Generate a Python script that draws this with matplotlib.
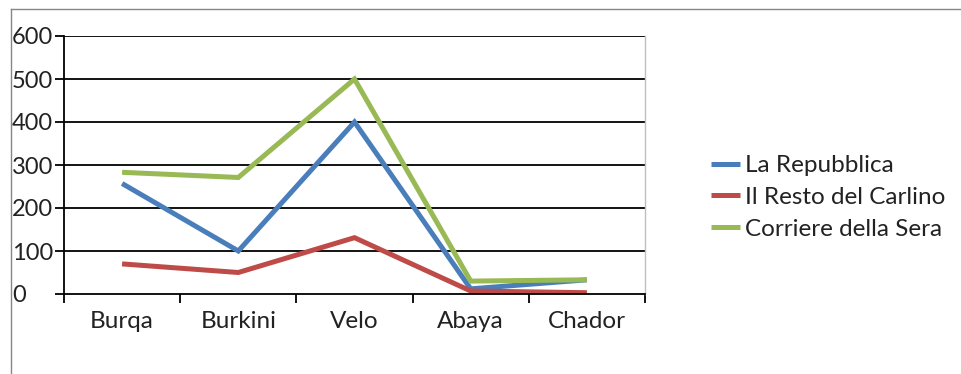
import matplotlib
matplotlib.use("Agg")
import matplotlib.pyplot as plt
from matplotlib.lines import Line2D

categories = ["Burqa", "Burkini", "Velo", "Abaya", "Chador"]
la_repubblica = [257, 100, 400, 12, 33]
resto_carlino = [70, 50, 131, 7, 3]
corriere_sera = [283, 271, 500, 30, 33]
y_ticks = [0, 100, 200, 300, 400, 500, 600]

series = [
    ("La Repubblica", la_repubblica, "#4A7EBB"),
    ("Il Resto del Carlino", resto_carlino, "#BE4B48"),
    ("Corriere della Sera", corriere_sera, "#98B954"),
]

plt.rcParams["font.family"] = ["Lato", "DejaVu Sans"]

W, H = 961, 374
fig = plt.figure(figsize=(W / 100, H / 100), dpi=100)

# outer chart frame (top and left edges visible)
fig.add_artist(Line2D([11 / W, 11 / W], [0, 1 - 9 / H], color="#868686", lw=1.0))
fig.add_artist(Line2D([11 / W, 1], [1 - 9 / H, 1 - 9 / H], color="#868686", lw=1.0))

left, right = 64 / W, 645 / W
bottom, top = 1 - 294 / H, 1 - 36 / H
ax = fig.add_axes([left, bottom, right - left, top - bottom])

x = [i + 0.5 for i in range(len(categories))]
for name, vals, col in series:
    ax.plot(x, vals, color=col, lw=3.6, label=name,
            solid_joinstyle="miter", solid_capstyle="butt")

ax.set_xlim(0, len(categories))
ax.set_ylim(0, 600)

# horizontal gridlines
for v in y_ticks[1:]:
    ax.axhline(v, color="#000000", lw=1.3, zorder=0)

ax.spines["top"].set_visible(False)
ax.spines["right"].set_color("#BFBFBF")
ax.spines["right"].set_linewidth(1.0)
ax.spines["left"].set_color("#000000")
ax.spines["left"].set_linewidth(1.3)
ax.spines["bottom"].set_color("#000000")
ax.spines["bottom"].set_linewidth(1.3)

# x axis: ticks at category boundaries, labels at centers
ax.set_xticks(range(len(categories) + 1))
ax.set_xticklabels([])
ax.tick_params(axis="x", which="major", length=6.5, width=1.3, direction="out", color="#000000")
ax.set_xticks(x, minor=True)
ax.set_xticklabels(categories, minor=True)
ax.tick_params(axis="x", which="minor", length=0, pad=12, labelsize=17.5, labelcolor="#222222")

# y axis
ax.set_yticks(y_ticks)
ax.set_yticklabels([str(v) for v in y_ticks])
ax.tick_params(axis="y", length=6.5, width=1.3, direction="out", color="#000000",
               labelsize=17, labelcolor="#222222", pad=31)
for lab in ax.get_yticklabels():
    lab.set_horizontalalignment("left")

leg = fig.legend(loc="upper left", bbox_to_anchor=(711 / W, 1 - 155 / H),
                 frameon=False, fontsize=17.5, handlelength=1.2, handletextpad=0.2,
                 labelspacing=0.45, borderaxespad=0, borderpad=0)
for t in leg.get_texts():
    t.set_color("#222222")

fig.savefig("out.png", dpi=100)
